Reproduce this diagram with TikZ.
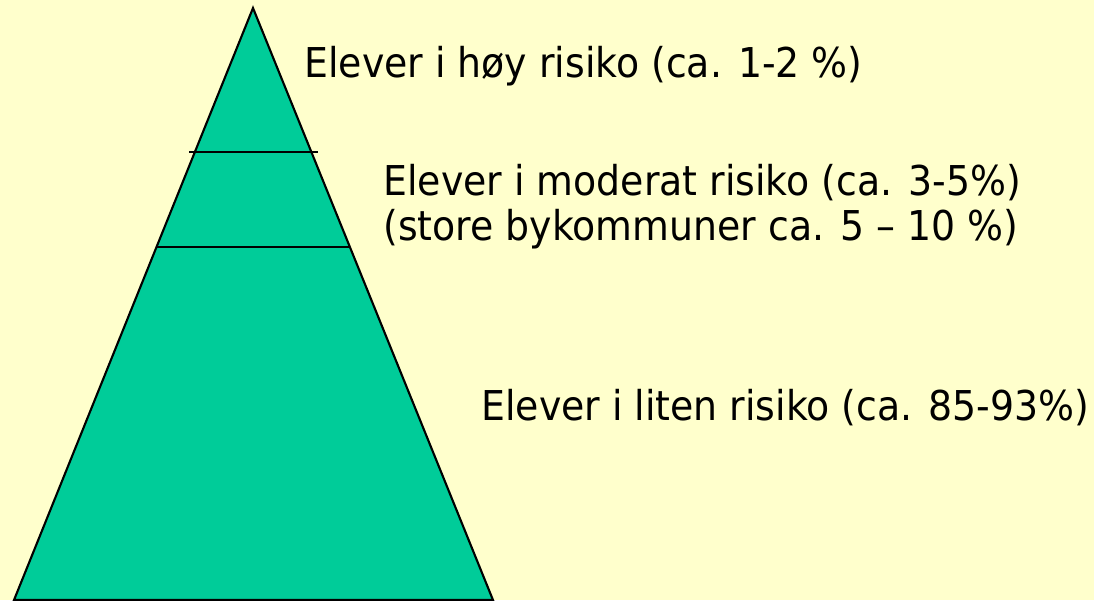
\documentclass[tikz,border=0pt]{standalone}
\usepackage{fontspec}
\setmainfont{DejaVu Sans}[FakeStretch=0.92]
\usepackage{tikz}
\usetikzlibrary{positioning}
\definecolor{bgyellow}{HTML}{FFFFCC}
\definecolor{pyrgreen}{HTML}{00CC99}
\tikzstyle{label} = [anchor=base west, inner sep=0pt, font=\fontsize{23.4}{28}\selectfont]
\tikzstyle{tier} = [draw, line width=1.2pt]

\begin{document}
\begin{tikzpicture}[x=0.02cm, y=-0.02cm]
	%% background
	\fill[bgyellow] (0,0) rectangle (1094,600);
	\useasboundingbox (0,0) rectangle (1094,600);
	%% pyramid
	\coordinate (top) at (253,8);
	\coordinate (bl) at (14,600);
	\coordinate (br) at (493,600);
	\filldraw[tier, fill=pyrgreen, line join=miter] (top) -- (bl) -- (br) -- cycle;
	\draw[tier] (189,152) -- (318,152);
	\draw[tier] (156,247) -- (350,247);
	%% Labels
	\node[label] (high) at (304,77) {Elever i høy risiko (ca. 1-2 \%)};
	\node[label] (mod) at (383,195) {Elever i moderat risiko (ca. 3-5\%)};
	\node[label] (city) at (383,240) {(store bykommuner ca. 5 – 10 \%)};
	\node[label] (low) at (481,420) {Elever i liten risiko (ca. 85-93\%)};
\end{tikzpicture}
\end{document}
